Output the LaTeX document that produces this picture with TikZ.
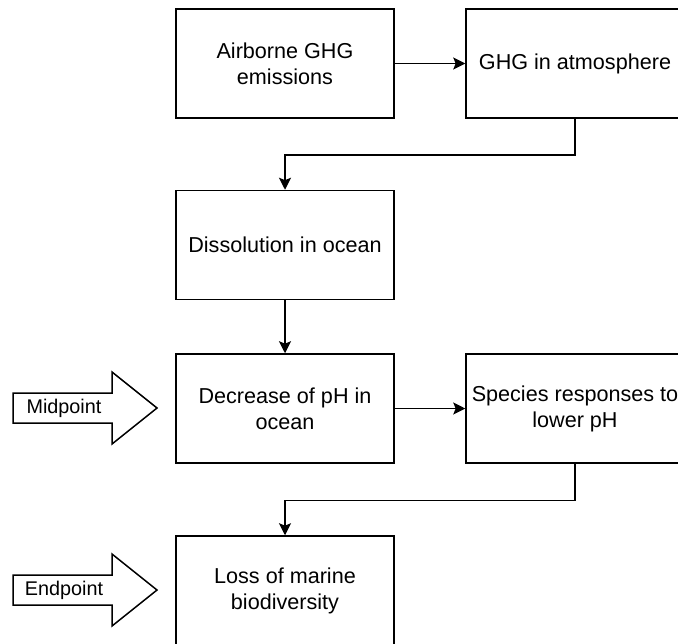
\documentclass[tikz,border=0pt]{standalone}
\usepackage{fontspec}
\setmainfont{Liberation Sans}
\usetikzlibrary{arrows.meta}

\tikzset{
    box/.style={draw, line width=0.75pt, minimum width=109pt, minimum height=54.5pt,
        align=center, inner sep=0pt, font=\fontsize{10.8}{13}\selectfont},
    flow/.style={-{Stealth[length=6pt, width=6pt, inset=1.2pt]}, line width=0.75pt},
    fat/.style={draw, line width=0.75pt, fill=white},
    tag/.style={font=\fontsize{9.9}{12}\selectfont, inner sep=0pt}
}

\begin{document}
\begin{tikzpicture}[x=0.5pt, y=-0.5pt]
\useasboundingbox (0,0) rectangle (678,643);

% row 1
\node[box] (emis) at (285,63.5) {Airborne GHG\\emissions};
\node[box] (atmo) at (575,63.5) {GHG in atmosphere};

% row 2
\node[box] (diss) at (285,245) {Dissolution in ocean};

% row 3
\node[box] (phdown) at (285,408.5) {Decrease of pH in\\ocean};
\node[box] (resp) at (575,408.5) {Species responses to\\lower pH};

% row 4
\node[box] (loss) at (285,590.5) {Loss of marine\\biodiversity};

% connectors
\draw[flow] (emis) -- (atmo);
\draw[flow] (atmo.south) -- ++(0,36) -| (diss.north);
\draw[flow] (diss) -- (phdown);
\draw[flow] (phdown) -- (resp);
\draw[flow] (resp.south) -- ++(0,36.5) -| (loss.north);

% Midpoint / Endpoint arrows
\foreach \yc/\txt/\nm in {408/Midpoint/mid, 590/Endpoint/end} {
    \draw[fat] (13,\yc-15) -- (112,\yc-15) -- (112,\yc-36) -- (157,\yc)
        -- (112,\yc+36) -- (112,\yc+15) -- (13,\yc+15) -- cycle;
    \node[tag] (\nm) at (64,\yc) {\txt};
}
\end{tikzpicture}
\end{document}
